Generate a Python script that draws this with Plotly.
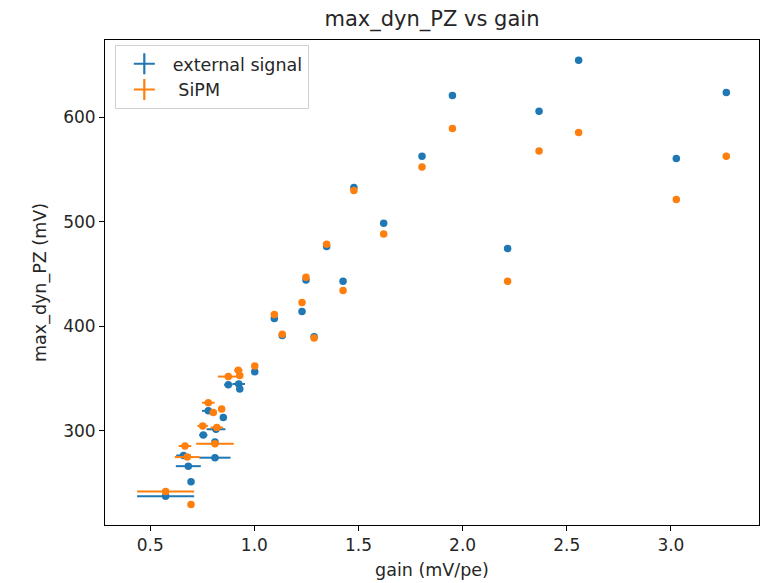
import plotly.graph_objects as go

BLUE = "#1f77b4"
ORANGE = "#ff7f0e"

ext_gain = [0.574, 0.696, 0.683, 0.660, 0.811, 0.811, 0.755, 0.816, 0.779, 0.851,
            0.875, 0.925, 0.930, 1.002, 1.096, 1.134, 1.229, 1.248, 1.287, 1.347,
            1.426, 1.478, 1.621, 1.805, 1.951, 2.216, 2.367, 2.557, 3.026, 3.266]
ext_max = [237.5, 251.3, 266.3, 276.5, 274.4, 289.4, 296.0, 301.6, 319.2, 312.8,
           344.2, 344.9, 340.0, 356.7, 407.5, 391.2, 414.2, 444.5, 390.2, 476.4,
           443.2, 533.0, 498.8, 562.9, 620.9, 474.5, 605.9, 654.7, 560.6, 623.8]
ext_gain_err = [0.137, 0.0, 0.06, 0.035, 0.075, 0.0, 0.02, 0.045, 0.03, 0.0,
                0.02, 0.03, 0.0, 0.0, 0.0, 0.0, 0.0, 0.0, 0.0, 0.0,
                0.0, 0.0, 0.0, 0.0, 0.0, 0.0, 0.0, 0.0, 0.0, 0.0]

sipm_gain = [0.574, 0.696, 0.678, 0.667, 0.811, 0.752, 0.820, 0.779, 0.803, 0.843,
             0.875, 0.923, 0.930, 1.002, 1.096, 1.134, 1.229, 1.248, 1.287, 1.347,
             1.426, 1.478, 1.621, 1.805, 1.951, 2.216, 2.367, 2.557, 3.026, 3.266]
sipm_max = [242.0, 229.5, 275.0, 285.6, 287.8, 304.8, 303.2, 327.0, 317.6, 320.9,
            352.0, 358.0, 353.0, 362.0, 411.3, 392.5, 422.8, 447.1, 389.0, 478.7,
            434.3, 530.0, 488.5, 552.6, 589.3, 443.2, 567.9, 585.5, 521.3, 562.9]
sipm_gain_err = [0.137, 0.0, 0.06, 0.03, 0.09, 0.025, 0.03, 0.03, 0.0, 0.0,
                 0.05, 0.02, 0.0, 0.0, 0.0, 0.0, 0.0, 0.0, 0.0, 0.0,
                 0.0, 0.0, 0.0, 0.0, 0.0, 0.0, 0.0, 0.0, 0.0, 0.0]

FONT = "DejaVu Sans"

fig = go.Figure()
for gx, gy, ge, col in [(ext_gain, ext_max, ext_gain_err, BLUE),
                        (sipm_gain, sipm_max, sipm_gain_err, ORANGE)]:
    fig.add_trace(go.Scatter(
        x=gx, y=gy, mode="markers",
        marker=dict(color=col, size=7.5),
        error_x=dict(type="data", array=ge, visible=True, color=col,
                     thickness=2, width=0),
        showlegend=False, hoverinfo="x+y"))

# legend entries (errorbar-style crosses)
for name, col in [("external signal", BLUE), (" SiPM", ORANGE)]:
    fig.add_trace(go.Scatter(
        x=[None], y=[None], mode="markers", name=name,
        marker=dict(symbol="cross-thin-open", size=15, color=col,
                    line=dict(color=col, width=2.2))))

fig.update_layout(
    width=766, height=583,
    margin=dict(l=105, r=7, t=40, b=58),
    paper_bgcolor="white", plot_bgcolor="white",
    font=dict(family=FONT, size=17, color="#262626"),
    title=dict(text="max_dyn_PZ vs gain", x=0.5, xref="paper",
               y=1 - 19 / 583, yanchor="middle", xanchor="center",
               font=dict(family=FONT, size=21, color="#262626")),
    legend=dict(x=0.015, y=0.99, xanchor="left", yanchor="top",
                bgcolor="rgba(255,255,255,0.8)", bordercolor="#d0d0d0",
                borderwidth=1, font=dict(family=FONT, size=17.5, color="#262626"),
                itemwidth=47),
    showlegend=True,
)
fig.update_xaxes(range=[0.283, 3.423], tickvals=[0.5, 1.0, 1.5, 2.0, 2.5, 3.0],
                 ticktext=["0.5", "1.0", "1.5", "2.0", "2.5", "3.0"],
                 showline=True, linecolor="black", linewidth=1, mirror=True,
                 ticks="outside", ticklen=5, tickcolor="black", showgrid=False,
                 zeroline=False, tickfont=dict(size=17),
                 title=dict(text="gain (mV/pe)", font=dict(size=17.5), standoff=9))
fig.update_yaxes(range=[210, 674], tickvals=[300, 400, 500, 600],
                 showline=True, linecolor="black", linewidth=1, mirror=True,
                 ticks="outside", ticklen=5, tickcolor="black", showgrid=False,
                 zeroline=False, tickfont=dict(size=17),
                 title=dict(text="max_dyn_PZ (mV)", font=dict(size=17.5), standoff=12))

fig.write_html("out.html")
